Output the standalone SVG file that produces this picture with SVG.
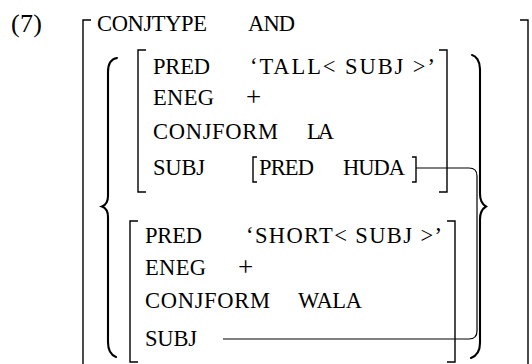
<svg xmlns="http://www.w3.org/2000/svg" width="532" height="364" viewBox="0 0 532 364">
  <style>
    text { font-family: 'Liberation Serif', 'DejaVu Serif', serif; font-size: 22.5px; fill: #000; }
    text.num { font-size: 26px; }
    text.op { font-size: 27px; }
    .brk { fill: none; stroke: #000; stroke-width: 1.4; }
    .brace { fill: none; stroke: #000; stroke-width: 2.1; stroke-linecap: round; }
    .link { fill: none; stroke: #000; stroke-width: 1.2; }
  </style>

  <!-- example number -->
  <text id="num" class="num" x="11" y="32" textLength="31">(7)</text>

  <!-- outer f-structure -->
  <g id="outer">
    <path class="brk" d="M91,20 H83 V364"/>
    <path class="brk" d="M520,20 H528 V364"/>
    <text x="97" y="31" textLength="110">CONJTYPE</text>
    <text x="248" y="31" textLength="47">AND</text>
  </g>

  <!-- set braces -->
  <g id="set">
    <path class="brace" d="M117,58 C111,59 108,64 108,72 V196 C108,202 106,205 102,206.5 C106,208 108,211 108,217 V342 C108,350 111,355 116,357"/>
    <path class="brace" d="M472,55 C476,56 480,61 480,69 V194 C480,201 482,204 486,206.5 C482,209 480,212 480,219 V343 C480,351 476,356 471,358"/>
  </g>

  <!-- first conjunct -->
  <g id="conj1">
    <path class="brk" d="M146,50 H138 V192 H146"/>
    <path class="brk" d="M439,50 H447 V192 H439"/>
    <text x="153" y="74" textLength="57">PRED</text>
    <text x="250" y="74" textLength="185">‘TALL&lt; SUBJ &gt;’</text>
    <text x="153" y="105" textLength="61">ENEG</text>
    <text class="op" x="246" y="106">+</text>
    <text x="153" y="139" textLength="125">CONJFORM</text>
    <text x="307" y="139" textLength="27">LA</text>
    <text x="153" y="175" textLength="52">SUBJ</text>
  </g>

  <!-- subject of first conjunct -->
  <g id="subj1">
    <path class="brk" d="M257,157 H253 V182 H257"/>
    <path class="brk" d="M412,157 H416 V182 H412"/>
    <text x="259" y="175" textLength="55">PRED</text>
    <text x="343" y="175" textLength="62">HUDA</text>
  </g>

  <!-- second conjunct -->
  <g id="conj2">
    <path class="brk" d="M138,221 H130 V362 H138"/>
    <path class="brk" d="M447,221 H455 V362 H447"/>
    <text x="145" y="243" textLength="57">PRED</text>
    <text x="246" y="243" textLength="196">‘SHORT&lt; SUBJ &gt;’</text>
    <text x="145" y="275" textLength="61">ENEG</text>
    <text class="op" x="238" y="276">+</text>
    <text x="145" y="308" textLength="125">CONJFORM</text>
    <text x="298" y="308" textLength="64">WALA</text>
    <text x="145" y="346" textLength="52">SUBJ</text>
  </g>

  <!-- structure-sharing line -->
  <g id="connectors">
    <path class="link" d="M416,168 H469 Q477,168 477,176 V331 Q477,339 469,339 H223"/>
  </g>
</svg>
